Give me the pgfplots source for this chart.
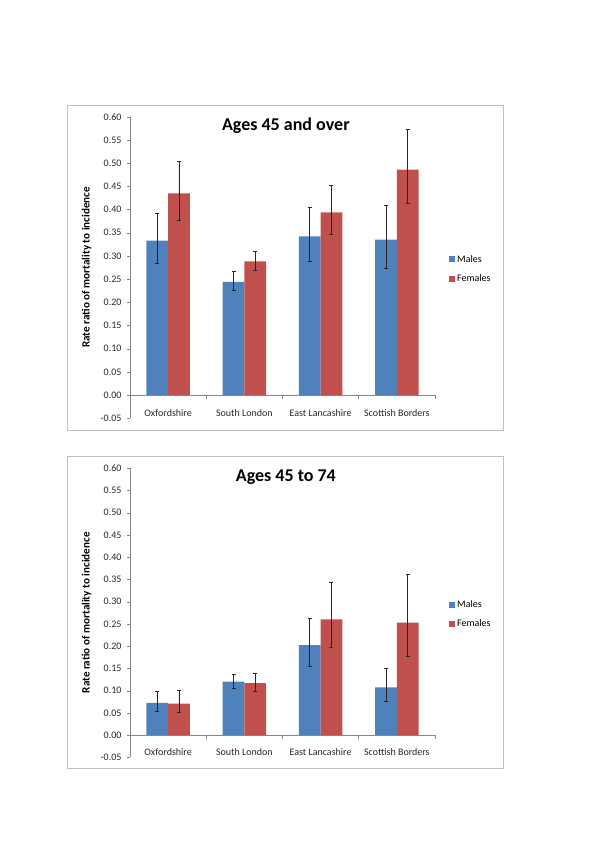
\documentclass[border=0pt]{standalone}
\usepackage{pgfplots}
\pgfplotsset{compat=1.18}
\usepackage{fontspec}
\setmainfont{Carlito}
\definecolor{mblue}{HTML}{4F81BD}
\definecolor{fred}{HTML}{C0504D}
\definecolor{axgray}{HTML}{868686}
\definecolor{framegray}{HTML}{BFBFBF}
\pgfplotsset{
  panel/.style={
    scale only axis, width=305pt,
    xmin=-0.5, xmax=3.5, ymin=-0.05, ymax=0.60,
    ybar, bar width=21.7pt,
    axis y line=left, axis x line=bottom,
    x axis line style={draw=none}, y axis line style={axgray,-},
    ytick={-0.05,0,0.05,0.1,0.15,0.2,0.25,0.3,0.35,0.4,0.45,0.5,0.55,0.6},
    yticklabel style={/pgf/number format/fixed, /pgf/number format/fixed zerofill, /pgf/number format/precision=2, /pgf/number format/assume math mode=true},
    yticklabel style={font=\fontsize{10}{12}\selectfont, text=black!85, xshift=-2pt},
    ytick style={axgray}, major tick length=3pt, tick align=outside,
    xtick={0,1,2,3},
    xticklabels={Oxfordshire,South London,East Lancashire,Scottish Borders},
    xtick style={draw=none},
    xticklabel style={font=\fontsize{10}{12}\selectfont, text=black!85, yshift=15pt},
    ylabel={Rate ratio of mortality to incidence},
    ylabel style={at={(axis description cs:-0.142,0.5)}, anchor=center, font=\bfseries\fontsize{11.1}{13}\selectfont},
    title style={at={(axis description cs:0.511,0.933)}, anchor=base, font=\bfseries\fontsize{18}{21}\selectfont},
    legend style={at={(axis description cs:1.046,0.495)}, anchor=west, draw=none, fill=none,
      font=\fontsize{10}{12}\selectfont, row sep=7pt, inner sep=0pt},
    legend cell align=left,
    error bars/error bar style={line width=0.7pt, draw=black!85},
    error bars/error mark=-,
    error bars/error mark options={rotate=90, line width=0.7pt, draw=black!85, mark size=2pt},
    clip=false,
  },
  mstyle/.style={fill=mblue, draw=none, bar shift=-10.85pt,
    legend image code/.code={\fill[mblue] (0pt,-3pt) rectangle (6pt,3pt);},
    error bars/.cd, y dir=both, y explicit},
  fstyle/.style={fill=fred, draw=none, bar shift=10.85pt,
    legend image code/.code={\fill[fred] (0pt,-3pt) rectangle (6pt,3pt);},
    error bars/.cd, y dir=both, y explicit},
}
\begin{document}
\begin{tikzpicture}
\path[use as bounding box] (0pt,0pt) rectangle (600pt,848pt);
\draw[framegray, line width=0.8pt] (67pt,418pt) rectangle (503pt,743pt);
\draw[framegray, line width=0.8pt] (67pt,80pt) rectangle (503pt,392pt);
\begin{axis}[panel, at={(130pt,429.7pt)}, anchor=south west, height=301.6pt,
  title={Ages 45 and over}]
\addplot[mstyle] coordinates {
 (0,0.333) += (0,0.058) -= (0,0.049)
 (1,0.244) += (0,0.022) -= (0,0.019)
 (2,0.342) += (0,0.063) -= (0,0.053)
 (3,0.335) += (0,0.075) -= (0,0.061)};
\addplot[fstyle] coordinates {
 (0,0.435) += (0,0.068) -= (0,0.058)
 (1,0.288) += (0,0.022) -= (0,0.020)
 (2,0.394) += (0,0.057) -= (0,0.048)
 (3,0.486) += (0,0.086) -= (0,0.073)};
\legend{Males,Females}
\draw[axgray, line width=0.6pt] (axis cs:-0.5,0) -- (axis cs:3.5,0);
\pgfplotsinvokeforeach{-0.5,0.5,1.5,2.5,3.5}{\draw[axgray, line width=0.6pt] (axis cs:#1,0) -- ([yshift=-3.5pt]axis cs:#1,0);}
\end{axis}
\begin{axis}[panel, at={(130pt,90.7pt)}, anchor=south west, height=289pt,
  title={Ages 45 to 74}]
\addplot[mstyle] coordinates {
 (0,0.0725) += (0,0.026) -= (0,0.019)
 (1,0.120) += (0,0.017) -= (0,0.015)
 (2,0.2025) += (0,0.0605) -= (0,0.0475)
 (3,0.107) += (0,0.042) -= (0,0.031)};
\addplot[fstyle] coordinates {
 (0,0.071) += (0,0.029) -= (0,0.020)
 (1,0.117) += (0,0.022) -= (0,0.018)
 (2,0.260) += (0,0.083) -= (0,0.062)
 (3,0.253) += (0,0.109) -= (0,0.076)};
\legend{Males,Females}
\draw[axgray, line width=0.6pt] (axis cs:-0.5,0) -- (axis cs:3.5,0);
\pgfplotsinvokeforeach{-0.5,0.5,1.5,2.5,3.5}{\draw[axgray, line width=0.6pt] (axis cs:#1,0) -- ([yshift=-3.5pt]axis cs:#1,0);}
\end{axis}
\end{tikzpicture}
\end{document}
